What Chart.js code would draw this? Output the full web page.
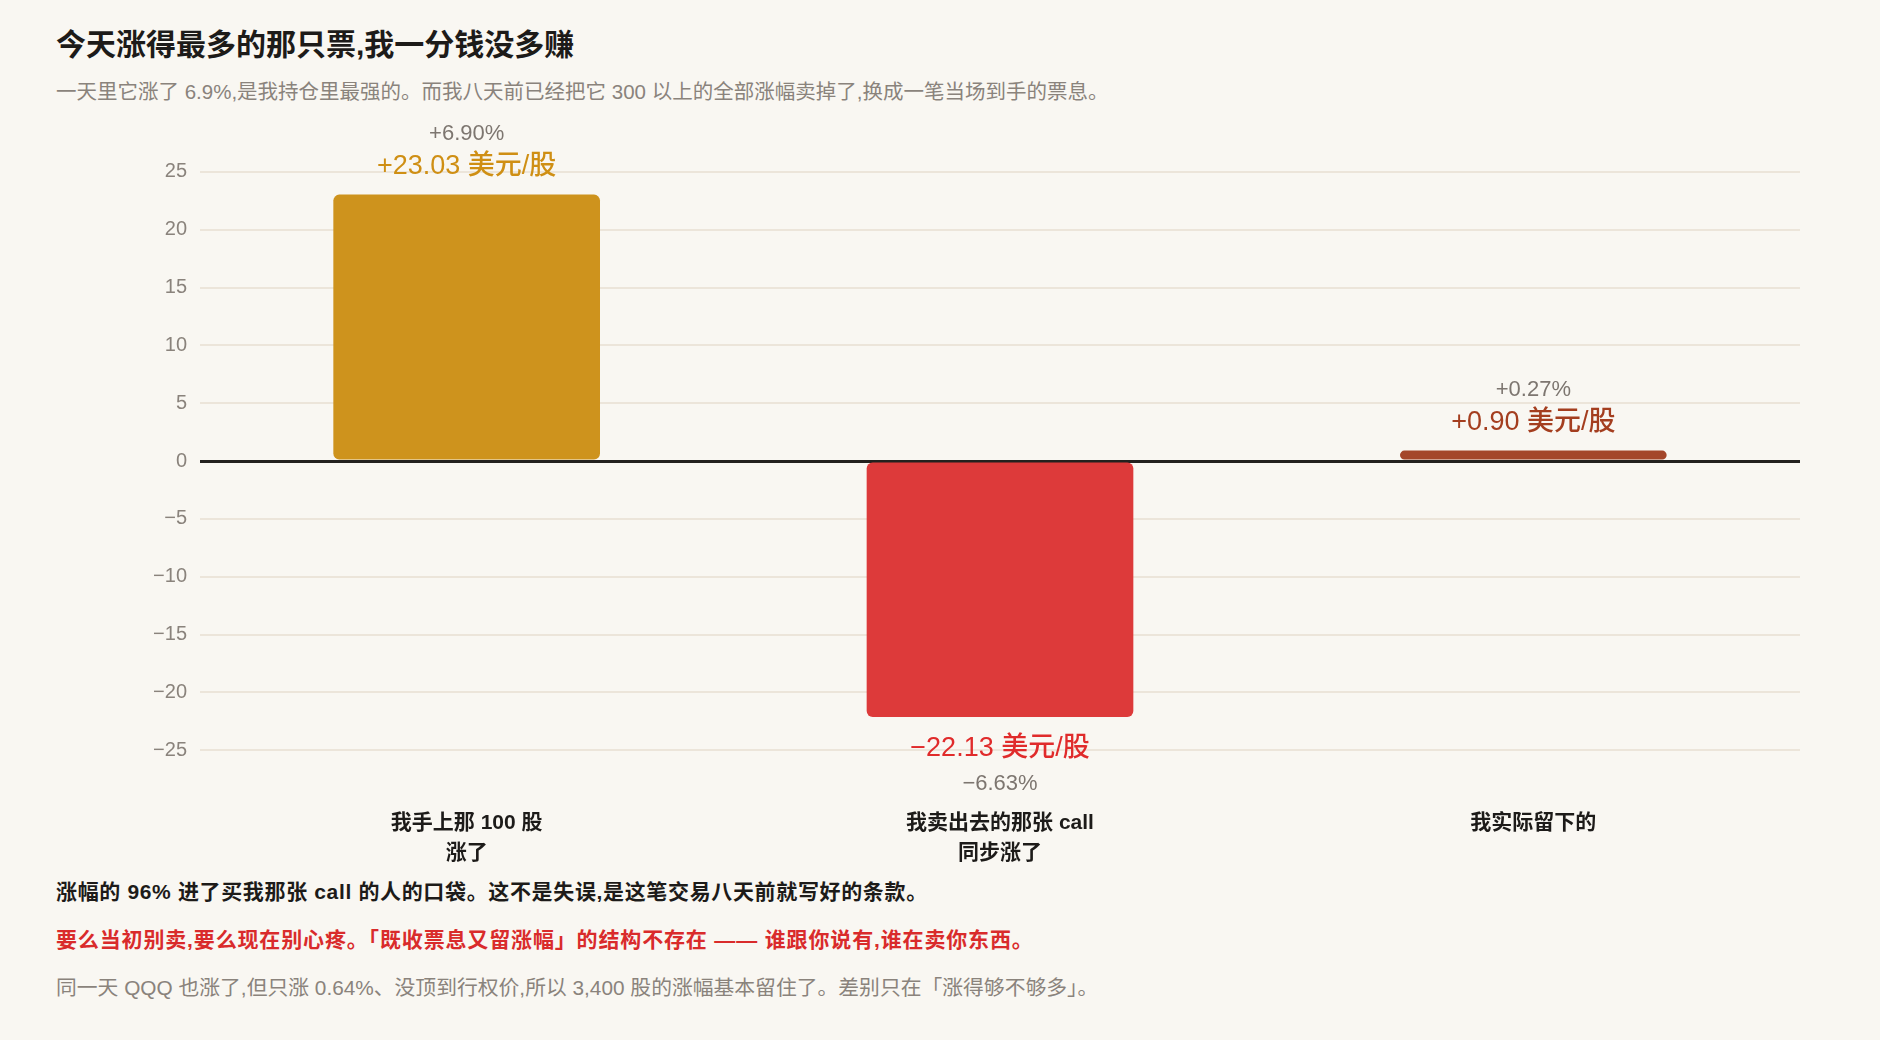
<!DOCTYPE html>
<html lang="zh-CN">
<head>
<meta charset="utf-8">
<title>今天涨得最多的那只票</title>
<script src="https://cdn.jsdelivr.net/npm/chart.js@4.4.1/dist/chart.umd.min.js"></script>
<style>
  html, body { margin: 0; padding: 0; }
  body {
    width: 1880px; height: 1040px; position: relative; overflow: hidden;
    background: #F9F7F2;
    font-family: "Helvetica Neue", "Liberation Sans", "Noto Sans CJK SC", sans-serif;
  }
  .txt { position: absolute; left: 56px; white-space: nowrap; }
  #title { top: 25px; font-size: 30px; line-height: 40px; font-weight: 700; color: #1d1b19; }
  #sub { top: 78px; font-size: 20.5px; line-height: 28px; color: #8a837c; }
  #wrap { position: absolute; left: 56px; top: 89px; width: 1744px; height: 779px; }
  .foot { font-size: 21px; line-height: 28px; }
  #f1 { top: 878px; color: #1d1b19; font-weight: 600; letter-spacing: 0.65px; }
  #f2 { top: 926px; color: #D92B2B; font-weight: 600; letter-spacing: 0.85px; }
  #f3 { top: 974px; color: #8a837c; font-size: 20.8px; }
</style>
</head>
<body>
<div id="title" class="txt">今天涨得最多的那只票,我一分钱没多赚</div>
<div id="sub" class="txt">一天里它涨了 6.9%,是我持仓里最强的。而我八天前已经把它 300 以上的全部涨幅卖掉了,换成一笔当场到手的票息。</div>
<div id="wrap"><canvas id="chart"></canvas></div>
<div id="f1" class="txt foot">涨幅的 96% 进了买我那张 call 的人的口袋。这不是失误,是这笔交易八天前就写好的条款。</div>
<div id="f2" class="txt foot">要么当初别卖,要么现在别心疼。「既收票息又留涨幅」的结构不存在 —— 谁跟你说有,谁在卖你东西。</div>
<div id="f3" class="txt foot">同一天 QQQ 也涨了,但只涨 0.64%、没顶到行权价,所以 3,400 股的涨幅基本留住了。差别只在「涨得够不够多」。</div>

<script>
// Data
const categories = [['我手上那 100 股', '涨了'], ['我卖出去的那张 call', '同步涨了'], ['我实际留下的']];
const perShare = [23.03, -22.13, 0.90];
const pctLabels = ['+6.90%', '−6.63%', '+0.27%'];
const barColours = ['#CE931D', '#DD3A3A', '#A4462A'];
const labelColours = ['#CF8F14', '#E02B2B', '#A43E1F'];
const yMin = -30, yMax = 30, yStep = 5;

const FONT = '"Helvetica Neue", "Liberation Sans", "Noto Sans CJK SC", sans-serif';
const minus = v => (v < 0 ? '−' + Math.abs(v) : String(v));
const fmtValue = v => (v < 0 ? '−' : '+') + Math.abs(v).toFixed(2) + ' 美元/股';

// draws the "+23.03 美元/股" and "+6.90%" labels next to each bar
const barLabels = {
  id: 'barLabels',
  afterDatasetsDraw(chart) {
    const ctx = chart.ctx;
    const meta = chart.getDatasetMeta(0);
    ctx.save();
    ctx.textAlign = 'center';
    ctx.textBaseline = 'middle';
    meta.data.forEach((bar, i) => {
      const v = perShare[i];
      const x = bar.x;
      const up = v >= 0;
      ctx.font = '500 27px ' + FONT;
      ctx.fillStyle = labelColours[i];
      ctx.fillText(fmtValue(v), x, up ? bar.y - 28 : bar.y + 32);
      ctx.font = '22px ' + FONT;
      ctx.fillStyle = '#7d7670';
      ctx.fillText(pctLabels[i], x, up ? bar.y - 61 : bar.y + 67);
    });
    ctx.restore();
  }
};

new Chart(document.getElementById('chart'), {
  type: 'bar',
  data: {
    labels: categories,
    datasets: [{
      data: perShare,
      backgroundColor: barColours,
      borderRadius: 6,
      borderSkipped: false,
      barPercentage: 0.625,
      categoryPercentage: 0.8
    }]
  },
  options: {
    responsive: true,
    maintainAspectRatio: false,
    animation: false,
    layout: { padding: { top: 4, right: 0, bottom: 0, left: 0 } },
    plugins: { legend: { display: false }, tooltip: { enabled: false } },
    scales: {
      x: {
        grid: { display: false },
        border: { display: false },
        ticks: {
          color: '#1d1b19',
          padding: -7,
          font: { family: FONT, size: 21, weight: '600', lineHeight: 1.4 },
          maxRotation: 0
        },
        afterFit(axis) { axis.height = 60; }
      },
      y: {
        min: yMin,
        max: yMax,
        border: { display: false },
        grid: {
          drawTicks: false,
          color: c => (c.tick && c.tick.value === 0 ? '#24211e' : '#ECE5DA'),
          lineWidth: c => (c.tick && c.tick.value === 0 ? 3 : 2)
        },
        ticks: {
          stepSize: yStep,
          padding: 13,
          color: '#8a837c',
          font: { family: FONT, size: 20 },
          callback: v => (Math.abs(v) === 30 ? null : minus(v))
        },
        afterFit(axis) { axis.width = 144; }
      }
    }
  },
  plugins: [barLabels]
});
</script>
</body>
</html>
